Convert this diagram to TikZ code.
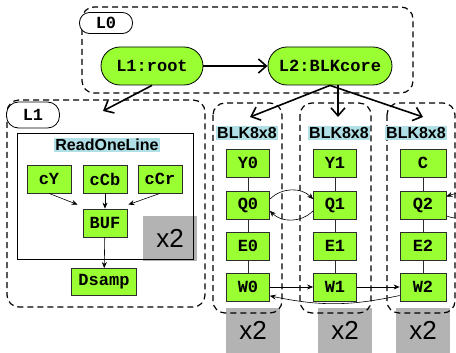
\documentclass[tikz,border=0pt]{standalone}
\usepackage{fontspec}
\setmainfont{Liberation Sans}
\setsansfont{Liberation Sans}
\setmonofont{Liberation Mono}
\usetikzlibrary{arrows.meta}
\definecolor{blkgreen}{RGB}{153,255,51}
\definecolor{hdblue}{RGB}{176,224,230}
\definecolor{repgray}{RGB}{179,179,179}
\definecolor{rim}{RGB}{45,45,45}

\begin{document}
\begin{tikzpicture}[x=1pt,y=-1pt,
  frame/.style={dash pattern=on 6pt off 4pt,line width=1.2pt,rounded corners=12pt},
  pill/.style={draw,fill=blkgreen,line width=0.8pt,rounded corners=19pt,minimum height=38pt,
    font=\ttfamily\bfseries\fontsize{17}{20}\selectfont},
  tag/.style={draw,fill=white,line width=0.8pt,rounded corners=10pt,minimum width=53pt,
    font=\ttfamily\bfseries\fontsize{17}{20}\selectfont},
  blk/.style={draw=rim,fill=blkgreen,line width=0.8pt,minimum width=43pt,minimum height=28pt,
    inner sep=1pt,font=\ttfamily\bfseries\fontsize{17}{20}\selectfont},
  head/.style={fill=hdblue,inner sep=1.5pt,font=\sffamily\bfseries\fontsize{16}{18}\selectfont},
  rep/.style={fill=repgray,minimum width=54pt,minimum height=45pt,
    font=\sffamily\fontsize{26}{28}\selectfont},
  main/.style={line width=1.6pt,-{Straight Barb[length=8pt,width=14pt]}},
  link/.style={line width=0.6pt,-{Stealth[length=6pt,width=5pt]}},
  tie/.style={line width=0.6pt,draw=rim}]
  \useasboundingbox (0,0) rectangle (456,353);

  % repeat counts
  \node[rep] (rep0) at (170,238.5) {x2};
  \node[rep] (rep1) at (253,330.5) {x2};
  \node[rep] (rep2) at (345,330.5) {x2};
  \node[rep] (rep3) at (423,330.5) {x2};

  % L0
  \draw[frame] (82,7) rectangle (413,93);
  \node[tag,minimum height=21pt] (l0tag) at (106,23) {L0};
  \node[pill,minimum width=102pt] (root) at (152,66) {L1:root};
  \node[pill,minimum width=124pt] (core) at (330,66) {L2:BLKcore};
  \draw[main] (root) -- (core);

  % L1
  \draw[frame] (7,100) rectangle (205,307);
  \node[tag,minimum height=26pt,rounded corners=12pt] (l1tag) at (33,115) {L1};
  \draw[line width=0.8pt] (17,133) rectangle (193,259);
  \node[head] (rol) at (107,145) {ReadOneLine};
  \node[blk,minimum width=44pt] (cy) at (49,179) {cY};
  \node[blk,minimum width=44pt] (ccb) at (105,179) {cCb};
  \node[blk,minimum width=44pt] (ccr) at (160,179) {cCr};
  \node[blk,minimum width=44pt] (buf) at (105,223) {BUF};
  \node[blk,minimum width=65pt,minimum height=27pt] (dsamp) at (104,282) {Dsamp};
  \coordinate (l1in) at (103,111);
  \draw[main] (root.south) -- (l1in);
  \draw[link] (cy.south) -- ([shift={(-5,-4)}]buf.north west);
  \draw[link] (ccb) -- (buf);
  \draw[link] (ccr.south) -- ([shift={(1,-4)}]buf.north east);
  \draw[link] (buf) -- (dsamp);

  % L2 columns
  \draw[frame] (213,103) rectangle (282,313);
  \draw[frame] (300,103) rectangle (371,313);
  \draw[frame] (387,103) rectangle (455,313);
  \node[head] (hd0) at (247,133) {BLK8x8};
  \node[head] (hd1) at (339,133) {BLK8x8};
  \node[head] (hd2) at (416,133) {BLK8x8};
  \coordinate (in0) at (250,117);
  \coordinate (in1) at (338,117);
  \coordinate (in2) at (423,117);
  \draw[main] (core.south) -- (in0);
  \draw[main] (core.south -| in1) -- (in1);
  \draw[main] (core.south) -- (in2);

  \node[blk] (y0) at (248,163) {Y0};
  \node[blk] (q0) at (248,205) {Q0};
  \node[blk] (e0) at (248,246) {E0};
  \node[blk] (w0) at (248,287) {W0};
  \node[blk] (y1) at (335,163) {Y1};
  \node[blk] (q1) at (335,205) {Q1};
  \node[blk] (e1) at (335,246) {E1};
  \node[blk] (w1) at (335,287) {W1};
  \node[blk,minimum width=46pt] (c) at (423,163) {C};
  \node[blk,minimum width=46pt] (q2) at (423,205) {Q2};
  \node[blk,minimum width=46pt] (e2) at (423,246) {E2};
  \node[blk,minimum width=46pt] (w2) at (423,287) {W2};

  \draw[tie] (y0) -- (q0) -- (e0) -- (w0);
  \draw[tie] (y1) -- (q1) -- (e1) -- (w1);
  \draw[tie] (c) -- (q2) -- (e2) -- (w2);

  \draw[link] (q0.15) to[bend left=45] (q1.165);
  \draw[link] (q1.195) to[bend left=45] (q0.-15);
  \draw[link] (q2.-25) to[out=-20,in=20,looseness=5] (q2.20);
  \draw[link] (w0) -- (w1);
  \draw[link] (w1) -- (w2);
  \draw[link] (w2.200) to[bend left=12] (w0.-22);
\end{tikzpicture}
\end{document}
